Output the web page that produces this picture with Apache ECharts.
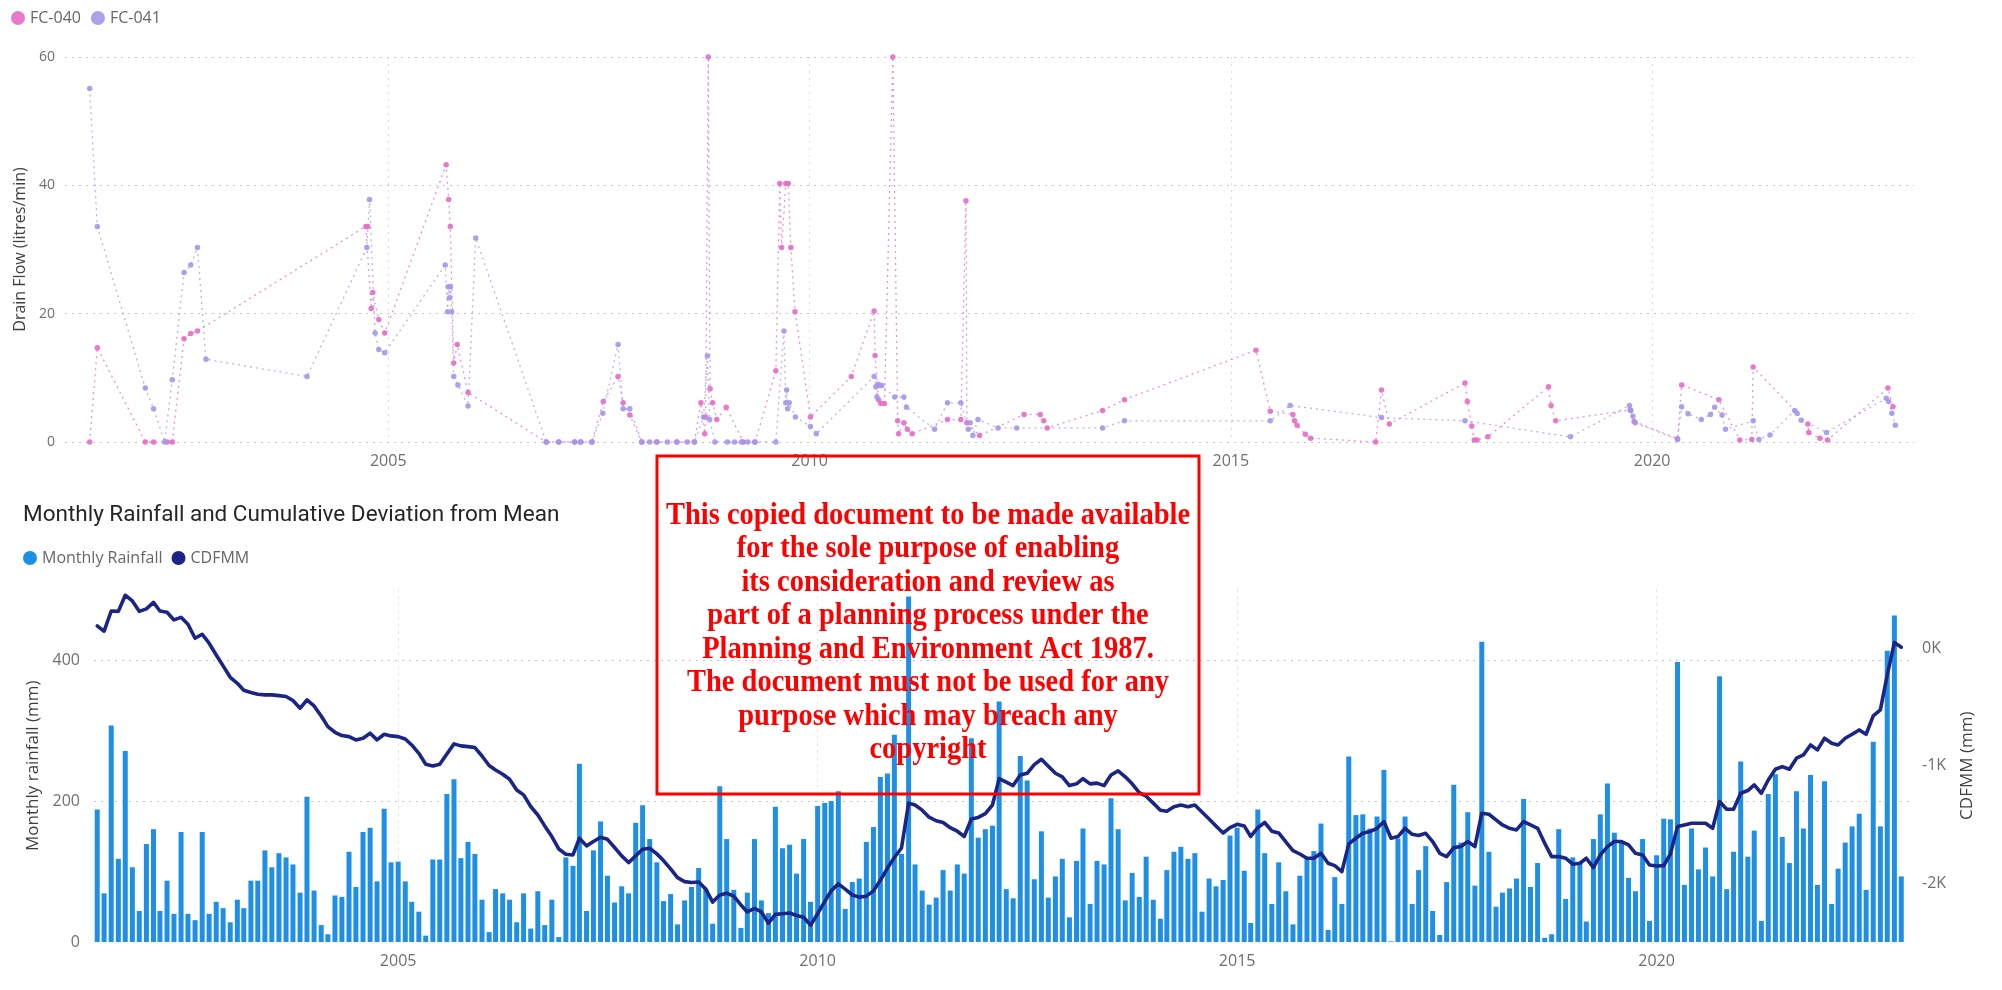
<!DOCTYPE html>
<html>
<head>
<meta charset="utf-8">
<script src="https://cdn.jsdelivr.net/npm/echarts@6/dist/echarts.min.js"></script>
<style>
  html, body { margin: 0; padding: 0; background: #ffffff; }
  #chart { width: 2002px; height: 990px; }
</style>
</head>
<body>
<div id="chart"></div>
<script>
// ---- Drain flow readings (litres/min) ----
const fc040Dates = [
  '2001-06-17','2001-07-20','2002-02-13','2002-03-21','2002-05-19','2002-06-10','2002-07-31','2002-08-29','2002-09-27',
  '2004-09-26','2004-10-04','2004-10-19','2004-10-26','2004-11-21','2004-12-17',
  '2005-09-09','2005-09-20','2005-09-27','2005-10-12','2005-10-27','2005-12-13',
  '2006-11-17','2007-01-10','2007-03-20','2007-04-15','2007-06-03','2007-07-22','2007-09-24','2007-10-16','2007-11-14',
  '2008-01-05','2008-03-10','2008-06-05','2008-08-20','2008-09-17','2008-10-04','2008-10-08','2008-10-19','2008-10-27','2008-11-07','2008-11-25',
  '2009-01-05','2009-03-20','2009-05-10','2009-08-08','2009-08-25','2009-09-02','2009-09-20','2009-10-01','2009-10-12','2009-10-30',
  '2010-01-05','2010-07-01','2010-10-08','2010-10-12','2010-10-27','2010-11-06','2010-11-22','2010-12-28',
  '2011-01-18','2011-01-22','2011-02-14','2011-03-01','2011-03-22','2011-08-22','2011-10-19','2011-11-10','2011-11-14',
  '2012-01-08','2012-07-19','2012-09-27','2012-10-12','2012-10-27','2013-06-24','2013-09-27',
  '2015-04-20','2015-06-21','2015-09-27','2015-10-04','2015-10-15','2015-11-20','2015-12-13',
  '2016-09-20','2016-10-15','2016-11-18','2017-10-12','2017-10-22','2017-11-10','2017-11-21','2017-12-03',
  '2018-01-19','2018-10-09','2018-10-20','2018-11-09','2019-09-28','2019-10-15','2020-04-20','2020-05-08','2020-10-16',
  '2021-01-15','2021-03-08','2021-03-14','2021-11-06','2021-11-10','2021-12-28','2022-01-30','2022-10-19','2022-11-10'
];
const fc040Flow = [
  0, 14.7, 0, 0, 0, 0, 16.1, 16.9, 17.3,
  33.6, 33.6, 20.8, 23.3, 19.1, 17.0,
  43.2, 37.8, 33.6, 12.3, 15.2, 7.7,
  0, 0, 0, 0, 0, 6.3, 10.2, 6.1, 4.2,
  0, 0, 0, 0, 6.1, 1.3, 3.9, 60, 8.3, 6.1, 3.5,
  5.4, 0, 0, 11.1, 40.3, 30.3, 40.3, 40.3, 30.3, 20.3,
  3.9, 10.2, 20.4, 13.5, 6.6, 6.0, 6.0, 60,
  3.3, 1.3, 3.0, 2.0, 1.3, 3.5, 3.5, 37.6, 3.0,
  1.0, 4.3, 4.3, 3.3, 2.2, 4.9, 6.6,
  14.3, 4.8, 4.3, 3.3, 2.6, 1.2, 0.6,
  0, 8.1, 2.8, 9.2, 6.3, 2.5, 0.3, 0.3,
  0.8, 8.6, 5.7, 3.3, 5.0, 3.2, 0.5, 8.9, 6.6,
  0.3, 0.4, 11.7, 2.8, 1.5, 0.6, 0.3, 8.4, 5.5
];
const fc041Dates = [
  '2001-06-17','2001-07-20','2002-02-13','2002-03-21','2002-05-08','2002-06-10','2002-07-31','2002-08-29','2002-09-27','2002-11-03',
  '2004-01-15','2004-09-30','2004-10-12','2004-11-05','2004-11-21','2004-12-17',
  '2005-09-05','2005-09-15','2005-09-18','2005-09-24','2005-09-28','2005-10-03','2005-10-12','2005-10-30','2005-12-13',
  '2006-01-15','2006-11-17','2007-01-10','2007-03-20','2007-04-15','2007-06-03','2007-07-20','2007-09-24','2007-10-16','2007-11-14',
  '2008-01-05','2008-02-08','2008-03-10','2008-04-25','2008-06-05','2008-07-20','2008-08-20','2008-09-29','2008-10-15','2008-10-25','2008-11-17',
  '2009-01-10','2009-02-10','2009-03-12','2009-04-08','2009-05-08','2009-08-08','2009-09-12','2009-09-20','2009-09-24','2009-09-28','2009-10-05','2009-11-01',
  '2010-01-05','2010-01-30','2010-10-08','2010-10-15','2010-10-20','2010-10-25','2010-11-01','2010-11-10',
  '2011-01-05','2011-02-14','2011-02-25','2011-06-27','2011-08-22','2011-10-19','2011-11-20','2011-11-28','2011-12-10',
  '2012-01-01','2012-03-28','2012-06-17','2013-06-24','2013-09-27',
  '2015-06-21','2015-09-15','2016-10-15','2017-10-12','2019-01-12',
  '2019-09-25','2019-10-01','2019-10-10','2019-10-20','2020-04-20','2020-05-08','2020-06-05','2020-08-01','2020-09-10','2020-09-28','2020-10-30','2020-11-14',
  '2021-03-14','2021-04-08','2021-05-26','2021-09-10','2021-09-20','2021-10-08','2022-01-26',
  '2022-10-12','2022-10-22','2022-11-05','2022-11-20'
];
const fc041Flow = [
  55.1, 33.6, 8.4, 5.2, 0, 9.7, 26.4, 27.6, 30.3, 12.9,
  10.2, 30.3, 37.8, 17.0, 14.4, 13.9,
  27.6, 20.3, 24.2, 22.5, 24.2, 20.3, 10.2, 8.9, 5.6,
  31.8, 0, 0, 0, 0, 0, 4.5, 15.2, 5.2, 5.2,
  0, 0, 0, 0, 0, 0, 0, 3.9, 13.4, 3.5, 0,
  0, 0, 0, 0, 0, 0, 17.3, 6.1, 8.1, 5.2, 6.1, 3.9,
  2.4, 1.3, 10.2, 8.6, 7.0, 9.0, 8.8, 8.8,
  7.0, 7.0, 5.4, 2.0, 6.1, 6.1, 2.0, 3.0, 1.0,
  3.5, 2.2, 2.2, 2.2, 3.3,
  3.3, 5.7, 3.8, 3.3, 0.8,
  5.7, 4.9, 4.0, 3.0, 0.4, 5.5, 4.4, 3.5, 4.3, 5.4, 4.2, 2.0,
  3.3, 0.4, 1.1, 4.9, 4.5, 3.4, 1.5,
  6.8, 6.3, 4.5, 2.6
];

// ---- Monthly rainfall (mm) and cumulative deviation from mean (mm), June 2001 to Dec 2022 ----
const firstMonth = [2001, 6];
const monthlyRainfall = [
  188, 69, 307, 118, 271, 106, 44, 139, 160, 44,
  87, 40, 156, 40, 31, 156, 40, 57, 48, 28,
  60, 48, 87, 87, 130, 106, 126, 120, 110, 70,
  206, 73, 24, 11, 66, 64, 128, 78, 156, 162,
  86, 189, 113, 114, 86, 57, 43, 9, 117, 117,
  210, 231, 119, 142, 125, 60, 14, 75, 69, 60,
  28, 69, 19, 72, 24, 60, 7, 120, 108, 253,
  44, 130, 171, 94, 56, 79, 69, 169, 194, 146,
  113, 58, 68, 25, 59, 78, 105, 75, 26, 221,
  146, 74, 20, 70, 146, 59, 41, 192, 133, 138,
  97, 146, 57, 193, 197, 200, 214, 47, 85, 90,
  142, 163, 234, 239, 294, 125, 490, 110, 73, 53,
  63, 102, 73, 110, 97, 289, 148, 160, 165, 341,
  75, 62, 264, 229, 89, 157, 63, 93, 118, 35,
  115, 161, 54, 115, 110, 204, 160, 59, 98, 64,
  121, 60, 33, 102, 128, 135, 118, 126, 43, 90,
  79, 88, 151, 162, 101, 27, 188, 126, 54, 113,
  72, 25, 94, 120, 129, 168, 17, 92, 54, 263,
  180, 181, 161, 178, 244, 1, 147, 178, 54, 102,
  136, 44, 10, 85, 223, 141, 184, 80, 426, 128,
  50, 70, 76, 90, 203, 78, 112, 6, 11, 160,
  61, 120, 112, 29, 146, 181, 225, 155, 141, 91,
  72, 146, 30, 123, 175, 174, 397, 81, 161, 103,
  134, 93, 377, 75, 128, 256, 121, 158, 30, 210,
  238, 149, 112, 214, 161, 237, 81, 228, 54, 104,
  141, 164, 182, 74, 284, 164, 413, 463, 93
];
const cdfmm = [
  190, 145, 317, 314, 451, 403, 314, 335, 390, 317,
  306, 241, 263, 204, 85, 119, 43, -57, -150, -247,
  -298, -357, -377, -391, -397, -397, -403, -411, -445, -511,
  -440, -491, -576, -667, -715, -743, -752, -780, -766, -723,
  -780, -732, -746, -752, -772, -823, -894, -987, -1002, -987,
  -900, -814, -831, -837, -845, -917, -998, -1036, -1072, -1115,
  -1206, -1248, -1347, -1419, -1512, -1603, -1708, -1753, -1759, -1617,
  -1682, -1645, -1609, -1626, -1696, -1767, -1824, -1767, -1711, -1702,
  -1750, -1807, -1878, -1952, -1986, -1994, -1990, -2050, -2160, -2100,
  -2085, -2110, -2185, -2244, -2214, -2244, -2340, -2265, -2259, -2253,
  -2274, -2289, -2357, -2259, -2155, -2065, -2005, -2050, -2100, -2118,
  -2110, -2065, -1975, -1871, -1781, -1700, -1318, -1334, -1378, -1438,
  -1468, -1483, -1527, -1557, -1602, -1453, -1440, -1408, -1334, -1110,
  -1140, -1169, -1079, -1064, -990, -945, -1004, -1064, -1094, -1169,
  -1154, -1110, -1154, -1148, -1169, -1079, -1044, -1094, -1154, -1229,
  -1259, -1318, -1378, -1387, -1348, -1334, -1348, -1334, -1393, -1453,
  -1512, -1572, -1527, -1498, -1512, -1602, -1527, -1483, -1557, -1572,
  -1647, -1722, -1751, -1787, -1787, -1745, -1830, -1850, -1901, -1665,
  -1617, -1575, -1560, -1532, -1475, -1617, -1603, -1532, -1583, -1594,
  -1575, -1645, -1745, -1773, -1697, -1688, -1645, -1688, -1404, -1413,
  -1461, -1504, -1532, -1546, -1475, -1504, -1532, -1660, -1773, -1773,
  -1787, -1838, -1830, -1787, -1867, -1759, -1688, -1645, -1645, -1674,
  -1745, -1759, -1844, -1853, -1850, -1751, -1518, -1504, -1489, -1489,
  -1489, -1532, -1305, -1370, -1370, -1234, -1211, -1163, -1234, -1121,
  -1030, -1007, -1030, -936, -908, -823, -865, -766, -809, -823,
  -766, -732, -695, -732, -576, -525, -227, 48, 9
];

// ---- Axis ticks and labels ----
const yearTicks = ['2005', '2010', '2015', '2020'];
const flowTicks = [0, 20, 40, 60];
const notice = [
  'This copied document to be made available',
  'for the sole purpose of enabling',
  'its consideration and review as',
  'part of a planning process under the',
  'Planning and Environment Act 1987.',
  'The document must not be used for any',
  'purpose which may breach any',
  'copyright'
];

// Local-time timestamp from 'YYYY-MM-DD'
const toTime = s => {
  const p = s.split('-').map(Number);
  return new Date(p[0], p[1] - 1, p[2] || 1).getTime();
};

const months = monthlyRainfall.map((_, i) => {
  const m = firstMonth[1] - 1 + i;
  return new Date(firstMonth[0] + Math.floor(m / 12), m % 12, 1).getTime();
});
const yearTickTimes = yearTicks.map(y => toTime(y + '-01-01'));

const FONT = '"Open Sans", "Noto Sans", sans-serif';
const LABEL_GREY = '#6f6f6f';
const NAME_GREY = '#3f3f3f';
const PINK = '#E46CC6';
const LAVENDER = '#A497EA';
const BAR_BLUE = '#1F8FE6';
const NAVY = '#1B2586';

// Date axis: a value axis over timestamps with a tick and grid line at each labelled year
function yearAxis(gridIndex, min, max) {
  return {
    type: 'value',
    gridIndex: gridIndex,
    min: toTime(min),
    max: toTime(max),
    axisLine: { show: false },
    axisTick: { show: false, customValues: yearTickTimes },
    axisLabel: {
      customValues: yearTickTimes,
      formatter: v => String(new Date(v).getFullYear()),
      color: LABEL_GREY, fontSize: 16, fontFamily: FONT, margin: 11
    },
    splitLine: { show: true, lineStyle: { type: [2, 5], color: '#dcdcdc', width: 1 } }
  };
}

const chart = echarts.init(document.getElementById('chart'), null, { renderer: 'canvas' });

const option = {
  animation: false,
  backgroundColor: '#ffffff',
  textStyle: { fontFamily: FONT },
  title: {
    text: 'Monthly Rainfall and Cumulative Deviation from Mean',
    left: 23, top: 504, padding: 0,
    textStyle: { fontFamily: 'Roboto, "Open Sans", sans-serif', fontSize: 22.5, fontWeight: 'normal', color: '#262626' }
  },
  legend: [
    {
      data: ['FC-040', 'FC-041'],
      left: 11, top: 10, padding: 0,
      icon: 'circle', itemWidth: 14, itemHeight: 14, itemGap: 10,
      textStyle: { color: '#666666', fontSize: 16, fontFamily: FONT }
    },
    {
      data: ['Monthly Rainfall', 'CDFMM'],
      left: 23, top: 550, padding: 0,
      icon: 'circle', itemWidth: 14, itemHeight: 14, itemGap: 9,
      textStyle: { color: '#666666', fontSize: 16, fontFamily: FONT }
    }
  ],
  grid: [
    { left: 65, right: 88, top: 57, height: 385 },
    { left: 94, right: 92, top: 589.5, height: 352.5 }
  ],
  xAxis: [
    yearAxis(0, '2001-03-02', '2023-02-09'),
    yearAxis(1, '2001-05-18', '2023-01-08')
  ],
  yAxis: [
    {
      type: 'value', gridIndex: 0,
      min: flowTicks[0], max: flowTicks[flowTicks.length - 1], interval: flowTicks[1] - flowTicks[0],
      name: 'Drain Flow (litres/min)', nameLocation: 'middle', nameGap: 30,
      nameTextStyle: { color: NAME_GREY, fontSize: 16, fontFamily: FONT },
      axisLine: { show: false }, axisTick: { show: false },
      axisLabel: { color: LABEL_GREY, fontSize: 14, fontFamily: FONT, margin: 10 },
      splitLine: { lineStyle: { type: [2, 5], color: '#c4c4c4', width: 1 } }
    },
    {
      type: 'value', gridIndex: 1,
      min: 0, max: 500, interval: 200,
      name: 'Monthly rainfall (mm)', nameLocation: 'middle', nameGap: 52,
      nameTextStyle: { color: NAME_GREY, fontSize: 17, fontFamily: FONT },
      axisLine: { show: false }, axisTick: { show: false },
      axisLabel: { color: LABEL_GREY, fontSize: 16, fontFamily: FONT, margin: 14, showMaxLabel: false },
      splitLine: { showMaxLine: false, showMinLine: false, lineStyle: { type: [2, 5], color: '#c4c4c4', width: 1 } }
    },
    {
      type: 'value', gridIndex: 1, position: 'right',
      min: -2500, max: 500, interval: 500,
      name: 'CDFMM (mm)', nameLocation: 'middle', nameGap: 49, nameRotate: 90,
      nameTextStyle: { color: NAME_GREY, fontSize: 17, fontFamily: FONT },
      axisLine: { show: false }, axisTick: { show: false },
      axisLabel: {
        color: LABEL_GREY, fontSize: 16, fontFamily: FONT, margin: 12,
        formatter: v => (v % 1000 === 0 ? (v / 1000) + 'K' : '')
      },
      splitLine: { show: false }
    }
  ],
  series: [
    {
      name: 'FC-040', type: 'line', xAxisIndex: 0, yAxisIndex: 0,
      data: fc040Dates.map((d, i) => [toTime(d), fc040Flow[i]]),
      symbol: 'circle', symbolSize: 5.5, showAllSymbol: true,
      itemStyle: { color: PINK, opacity: 0.9 },
      lineStyle: { color: PINK, width: 1.3, type: [2, 4], opacity: 0.75 },
      z: 3
    },
    {
      name: 'FC-041', type: 'line', xAxisIndex: 0, yAxisIndex: 0,
      data: fc041Dates.map((d, i) => [toTime(d), fc041Flow[i]]),
      symbol: 'circle', symbolSize: 5.5, showAllSymbol: true,
      itemStyle: { color: LAVENDER, opacity: 0.9 },
      lineStyle: { color: LAVENDER, width: 1.3, type: [2, 4], opacity: 0.75 },
      z: 4
    },
    {
      name: 'Monthly Rainfall', type: 'bar', xAxisIndex: 1, yAxisIndex: 1,
      data: months.map((t, i) => [t, monthlyRainfall[i]]),
      barWidth: 5,
      itemStyle: { color: BAR_BLUE },
      z: 2
    },
    {
      name: 'CDFMM', type: 'line', xAxisIndex: 1, yAxisIndex: 2,
      data: months.map((t, i) => [t, cdfmm[i]]),
      showSymbol: false, symbol: 'circle',
      itemStyle: { color: NAVY },
      lineStyle: { color: NAVY, width: 3.6, join: 'round', cap: 'round' },
      z: 5
    }
  ],
  graphic: [
    {
      type: 'rect', z: 100,
      shape: { x: 657, y: 456, width: 542, height: 338 },
      style: { fill: 'none', stroke: '#ff0000', lineWidth: 3 }
    },
    {
      type: 'text', z: 101, x: 928, y: 633, scaleY: 1.1,
      style: {
        text: notice.join('\n'),
        fill: '#ff0000',
        fontFamily: '"Liberation Serif", "Times New Roman", serif',
        fontWeight: 'bold', fontSize: 28.5, lineHeight: 30.4,
        align: 'center', verticalAlign: 'middle',
        textAlign: 'center', textVerticalAlign: 'middle'
      }
    }
  ]
};

chart.setOption(option);
</script>
</body>
</html>
